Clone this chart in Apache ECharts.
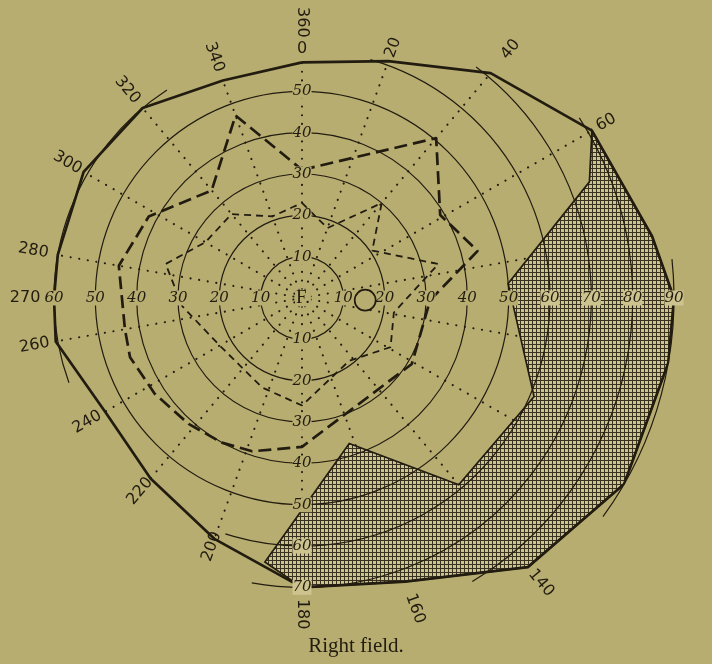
<!DOCTYPE html>
<html>
<head>
<meta charset="utf-8">
<script src="https://cdn.jsdelivr.net/npm/echarts@6/dist/echarts.min.js"></script>
<style>
  html, body { margin: 0; padding: 0; background: #b7ad71; }
  #chart { width: 712px; height: 664px; }
</style>
</head>
<body>
<div id="chart"></div>
<script>
// Meridians (degrees clockwise from the top) and the outer field limit on each (degrees from fixation)
const fieldAngles = [0, 20, 40, 60, 80, 90, 100, 120, 140, 160, 180, 200, 220, 240, 260, 270, 280, 300, 320, 340];
const fieldRadii  = [57, 61, 71, 81, 86, 90, 90, 90, 85, 73, 70, 62, 57, 55, 60.5, 60, 60, 61, 60, 56];

// Inner border of the lost (hatched) sector, from the 60° meridian round to where it meets the limit
const lossAngles = [60, 68, 86, 113, 140, 162, 188];
const lossRadii  = [81, 75, 50, 61, 59, 37, 64.5];

// Heavy dashed isopter
const isoAAngles = [0, 40, 59, 75, 91, 121, 180, 198, 209, 222, 237, 251, 260, 280, 298, 320, 340];
const isoARadii  = [31, 50.5, 39, 44, 31, 31, 36, 39, 40, 41, 42.5, 44, 43.5, 45, 42, 34, 47];

// Light dashed isopter
const isoBAngles = [0, 20, 40, 56, 76, 99, 119, 143, 180, 204, 240, 266, 284, 300, 320, 340];
const isoBRadii  = [23, 18, 30, 20.5, 34, 22.5, 24.5, 19, 26, 23.7, 23, 29, 34, 27, 26.5, 21];

// Blind spot [radius, angle]
const blindSpot = [15.3, 92];

// Degree circles and the arc of each that is drawn (clockwise, from -> to)
const ringValues = [10, 20, 30, 40, 50, 60, 60, 70, 80, 90];
const ringFrom   = [0, 0, 0, 0, 0, 16, 250, 37, 57, 84];
const ringTo     = [360, 360, 360, 360, 360, 198, 327, 190, 149, 126];

// Meridian numbers round the outside
const meridianLabels = [0, 20, 40, 60, 80, 90, 100, 120, 140, 160, 180, 200, 220, 240, 260, 270, 280, 300, 320, 340];
// Degree numbers written along the four principal meridians
const scaleUp    = [10, 20, 30, 40, 50];
const scaleRight = [10, 20, 30, 40, 50, 60, 70, 80, 90];
const scaleDown  = [10, 20, 30, 40, 50, 60, 70];
const scaleLeft  = [10, 20, 30, 40, 50, 60];

// ---- layout ----
const INK = '#221c10';
const PAPER = '#b7ad71';
const HATCH_LIGHT = '#cdc38f';
const meridianLabelRadius = {0: 60.4, 20: 64.5, 40: 78.5, 60: 85, 80: 90.5, 90: 96, 100: 96.5, 120: 95,
  140: 90, 160: 80, 180: 76.5, 200: 64, 220: 61, 240: 60, 260: 65.7, 270: 67, 280: 66, 300: 65.5,
  320: 65.7, 340: 62};

const polarPts = (radii, angles) => radii.map((r, i) => [r, angles[i]]);
const closed = pts => pts.concat([pts[0]]);

const fieldPts = polarPts(fieldRadii, fieldAngles);
const lossPts = polarPts(lossRadii, lossAngles).concat(
  fieldPts.filter(p => p[1] > 60 && p[1] <= 180).reverse()
);
const spokePts = fieldPts.filter(p => p[1] % 20 === 0);

// grid tile for the hatched sector
const tile = document.createElement('canvas');
tile.width = 4; tile.height = 4;
const tctx = tile.getContext('2d');
tctx.fillStyle = HATCH_LIGHT; tctx.fillRect(0, 0, 4, 4);
tctx.fillStyle = '#3a3220';
tctx.fillRect(0, 0, 4, 1);
tctx.fillRect(0, 0, 1, 4);

// text rotation so numbers run along their meridian
function meridianRotation(a) {
  if (a === 0) return 0;
  const css = a <= 180 ? a - 90 : a - 270;
  return -css;
}

const meridianData = meridianLabels.map(a => ({
  value: [meridianLabelRadius[a], a], name: String(a), label: { rotate: meridianRotation(a) }
}));
meridianData.push({ value: [66.7, 0], name: '360', label: { rotate: -90 } });

function scaleItems(values, angle) {
  return values.map(v => {
    const inLoss = (angle === 90 && v >= 60) || (angle === 180 && v >= 60);
    return { value: [v, angle], name: String(v),
      label: { backgroundColor: inLoss ? HATCH_LIGHT : PAPER } };
  });
}
const scaleData = [].concat(
  scaleItems(scaleUp, 0), scaleItems(scaleRight, 90),
  scaleItems(scaleDown, 180), scaleItems(scaleLeft, 270)
);

const chart = echarts.init(document.getElementById('chart'), null, { renderer: 'canvas' });

const textBase = { show: true, position: 'inside', formatter: '{b}', color: INK, textBorderWidth: 0 };
const solidItem = { color: INK, opacity: 1 };

chart.setOption({
  backgroundColor: PAPER,
  animation: false,
  title: {
    text: 'Right field.', left: 'center', top: 631,
    textStyle: { fontFamily: 'Liberation Serif', fontSize: 21, fontWeight: 'normal', color: INK }
  },
  polar: { center: [302, 298], radius: 372 },
  angleAxis: {
    type: 'value', min: 0, max: 360, startAngle: 90, clockwise: true,
    axisLine: { show: false }, axisTick: { show: false }, axisLabel: { show: false }, splitLine: { show: false }
  },
  radiusAxis: {
    type: 'value', min: 0, max: 90,
    axisLine: { show: false }, axisTick: { show: false }, axisLabel: { show: false }, splitLine: { show: false }
  },
  series: [
    { // dotted meridians
      type: 'custom', coordinateSystem: 'polar', z: 1, silent: true,
      data: spokePts,
      renderItem: (params, api) => {
        const a = api.value(1), r = api.value(0);
        const p0 = api.coord([0, a]), p1 = api.coord([r, a]);
        return { type: 'line', shape: { x1: p0[0], y1: p0[1], x2: p1[0], y2: p1[1] },
          style: { stroke: INK, lineWidth: 2.1, lineDash: [0.1, 8.6], lineCap: 'round', fill: 'none' } };
      }
    },
    { // hatched lost sector
      type: 'custom', coordinateSystem: 'polar', z: 2, silent: true,
      data: lossPts,
      renderItem: (params, api) => {
        if (params.dataIndex !== 0) return null;
        const points = lossPts.map(p => api.coord(p));
        return { type: 'polygon', shape: { points },
          style: { fill: { image: tile, repeat: 'repeat' }, stroke: INK, lineWidth: 1.7 } };
      }
    },
    { // degree circles
      type: 'custom', coordinateSystem: 'polar', z: 3, silent: true,
      data: ringValues.map((v, i) => [v, ringFrom[i], ringTo[i]]),
      renderItem: (params, api) => {
        const c = api.coord([0, 0]);
        const e = api.coord([api.value(0), 90]);
        const rpx = e[0] - c[0];
        const from = (api.value(1) - 90) * Math.PI / 180;
        const to = (api.value(2) - 90) * Math.PI / 180;
        return { type: 'arc', shape: { cx: c[0], cy: c[1], r: rpx, startAngle: from, endAngle: to, clockwise: true },
          style: { stroke: INK, lineWidth: 1.2, fill: 'none' } };
      }
    },
    { // light dashed isopter
      type: 'line', coordinateSystem: 'polar', z: 4, silent: true, symbol: 'none',
      data: closed(polarPts(isoBRadii, isoBAngles)),
      lineStyle: { color: INK, width: 1.8, type: [7, 5], opacity: 1 }
    },
    { // heavy dashed isopter
      type: 'line', coordinateSystem: 'polar', z: 4, silent: true, symbol: 'none',
      data: closed(polarPts(isoARadii, isoAAngles)),
      lineStyle: { color: INK, width: 2.7, type: [13, 6], opacity: 1 }
    },
    { // outer field limit
      type: 'line', coordinateSystem: 'polar', z: 5, silent: true, symbol: 'none',
      data: closed(fieldPts),
      lineStyle: { color: INK, width: 2.7, type: 'solid', opacity: 1 }
    },
    { // fixation point
      type: 'scatter', coordinateSystem: 'polar', z: 6, silent: true,
      data: [{ value: [0, 0], name: 'F.' }], symbolSize: 0, itemStyle: solidItem,
      label: Object.assign({}, textBase, { fontFamily: 'Liberation Serif', fontSize: 19,
        backgroundColor: PAPER, padding: [0, 1, -2, 1], offset: [1, 0] })
    },
    { // degree numbers on the principal meridians
      type: 'scatter', coordinateSystem: 'polar', z: 7, silent: true,
      data: scaleData, symbolSize: 0, itemStyle: solidItem,
      label: Object.assign({}, textBase, { fontFamily: 'DejaVu Serif', fontStyle: 'italic',
        fontSize: 15, padding: [0, 0] })
    },
    { // blind spot
      type: 'scatter', coordinateSystem: 'polar', z: 8, silent: true,
      data: [blindSpot], symbol: 'circle', symbolSize: 21,
      itemStyle: { color: PAPER, borderColor: INK, borderWidth: 1.7, opacity: 1 }
    },
    { // meridian numbers
      type: 'scatter', coordinateSystem: 'polar', z: 7, silent: true,
      data: meridianData, symbolSize: 0, itemStyle: solidItem,
      label: Object.assign({}, textBase, { fontFamily: 'DejaVu Sans', fontSize: 16 })
    }
  ]
});
</script>
</body>
</html>
